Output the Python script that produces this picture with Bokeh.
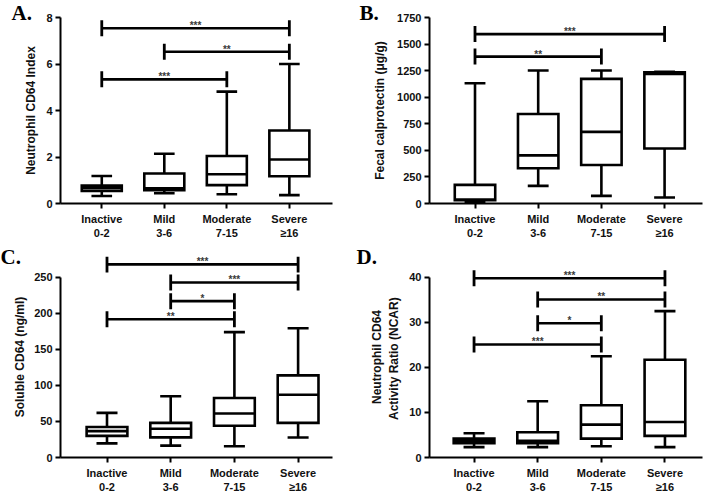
import numpy as np
from bokeh.plotting import figure
from bokeh.layouts import gridplot
from bokeh.models import ColumnDataSource, FixedTicker, Range1d
from bokeh.core.properties import value
from bokeh.embed import file_html
from bokeh.resources import INLINE

# ---------------- data ----------------
cats = [1, 2, 3, 4]
cat_labels = ["Inactive\n0-2", "Mild\n3-6", "Moderate\n7-15", "Severe\n≥16"]

# Panel A: Neutrophil CD64 Index
a_min = [0.32, 0.44, 0.40, 0.36]
a_q1 = [0.54, 0.57, 0.79, 1.17]
a_med = [0.66, 0.65, 1.26, 1.89]
a_q3 = [0.77, 1.29, 2.04, 3.14]
a_max = [1.18, 2.14, 4.81, 6.00]
a_br_from = [1, 2, 1]
a_br_to = [4, 4, 3]
a_br_y = [7.54, 6.53, 5.34]
a_br_txt = ["***", "**", "***"]
a_ticks = [0, 2, 4, 6, 8]

# Panel B: Fecal calprotectin
b_min = [15, 166, 72, 56]
b_q1 = [30, 331, 362, 518]
b_med = [38, 453, 674, 1220]
b_q3 = [175, 842, 1173, 1235]
b_max = [1132, 1251, 1251, 1240]
b_br_from = [1, 1]
b_br_to = [4, 3]
b_br_y = [1594, 1382]
b_br_txt = ["***", "**"]
b_ticks = [0, 250, 500, 750, 1000, 1250, 1500, 1750]

# Panel C: Soluble CD64
c_min = [19.6, 16.5, 15.6, 27.7]
c_q1 = [30, 28, 44, 48]
c_med = [36.6, 40, 61, 87]
c_q3 = [42.4, 48, 82.6, 114]
c_max = [62, 85, 174, 179.5]
c_br_from = [1, 2, 2, 1]
c_br_to = [4, 4, 3, 3]
c_br_y = [268, 243, 217, 192]
c_br_txt = ["***", "***", "*", "**"]
c_ticks = [0, 50, 100, 150, 200, 250]

# Panel D: NCAR
d_min = [2.3, 2.3, 2.5, 2.3]
d_q1 = [3.2, 3.2, 4.2, 4.8]
d_med = [3.7, 3.7, 7.3, 7.9]
d_q3 = [4.2, 5.6, 11.6, 21.7]
d_max = [5.4, 12.5, 22.5, 32.5]
d_br_from = [1, 2, 2, 1]
d_br_to = [4, 4, 3, 3]
d_br_y = [39.8, 35.1, 29.8, 25.1]
d_br_txt = ["***", "**", "*", "***"]
d_ticks = [0, 10, 20, 30, 40]

FONT = "Liberation Sans"
BOX_W = 0.64
CAP_W = 0.33


def make_panel(letter, ylabel, mins, q1, med, q3, maxs, br_from, br_to, br_y, br_txt,
               ticks, yr, xr, width, height, bl, br, bt, bb, lab_standoff, title_standoff):
    p = figure(width=width, height=height, output_backend="svg", toolbar_location=None,
               x_range=Range1d(*xr), y_range=Range1d(*yr),
               min_border_left=bl, min_border_right=br, min_border_top=bt, min_border_bottom=bb)
    p.outline_line_color = None
    p.grid.visible = False
    p.background_fill_color = "white"
    p.border_fill_color = "white"

    # panel letter as the figure title, pulled to the canvas' left edge
    p.title.text = letter
    p.title.text_font = "Liberation Serif"
    p.title.text_font_style = "bold"
    p.title.text_font_size = "21px"
    p.title.text_color = "black"
    p.title.align = "left"
    p.title.offset = -bl
    p.title.standoff = title_standoff

    x = np.array(cats, dtype=float)
    src = ColumnDataSource(dict(
        x=x, xl=x - BOX_W / 2, xr=x + BOX_W / 2, cl=x - CAP_W / 2, cr=x + CAP_W / 2,
        mn=mins, q1=q1, med=med, q3=q3, mx=maxs))
    lw = 2.6
    p.segment(x0="x", y0="mn", x1="x", y1="q1", source=src, line_color="black", line_width=lw)
    p.segment(x0="x", y0="q3", x1="x", y1="mx", source=src, line_color="black", line_width=lw)
    p.segment(x0="cl", y0="mn", x1="cr", y1="mn", source=src, line_color="black", line_width=lw)
    p.segment(x0="cl", y0="mx", x1="cr", y1="mx", source=src, line_color="black", line_width=lw)
    p.quad(left="xl", right="xr", bottom="q1", top="q3", source=src,
           fill_color="white", line_color="black", line_width=lw, line_join="miter")
    p.segment(x0="xl", y0="med", x1="xr", y1="med", source=src, line_color="black", line_width=lw)

    bsrc = ColumnDataSource(dict(x0=br_from, x1=br_to, y=br_y, txt=br_txt,
                                 xm=[(a + b) / 2 for a, b in zip(br_from, br_to)]))
    p.segment(x0="x0", y0="y", x1="x1", y1="y", source=bsrc, line_color="black", line_width=2.6)
    p.scatter(x="x0", y="y", source=bsrc, marker="dash", angle=np.pi / 2, size=16,
              line_color="black", line_width=2.8)
    p.scatter(x="x1", y="y", source=bsrc, marker="dash", angle=np.pi / 2, size=16,
              line_color="black", line_width=2.8)
    p.text(x="xm", y="y", text="txt", source=bsrc, text_font=value(FONT), text_font_size="10px",
           text_font_style="bold", text_color="#3a3a3a", text_align="center",
           text_baseline="bottom", y_offset=3)

    # axes
    for ax in (p.xaxis[0], p.yaxis[0]):
        ax.axis_line_width = 2
        ax.axis_line_color = "black"
        ax.major_tick_line_width = 2
        ax.major_tick_line_color = "black"
        ax.major_tick_in = 0
        ax.major_tick_out = 5
        ax.minor_tick_line_color = None
        ax.major_label_text_font = FONT
        ax.major_label_text_font_style = "bold"
        ax.major_label_text_font_size = "11px"
        ax.major_label_text_color = "#111111"
    p.yaxis.ticker = FixedTicker(ticks=ticks)
    p.yaxis.bounds = (ticks[0], ticks[-1])
    p.yaxis.major_label_standoff = 3
    p.yaxis.axis_label = ylabel
    p.yaxis.axis_label_text_font = FONT
    p.yaxis.axis_label_text_font_style = "bold"
    p.yaxis.axis_label_text_font_size = "12px"
    p.yaxis.axis_label_text_color = "#111111"
    p.yaxis.axis_label_standoff = lab_standoff

    p.xaxis.ticker = FixedTicker(ticks=cats)
    p.xaxis.major_label_overrides = {c: l for c, l in zip(cats, cat_labels)}
    p.xaxis.major_label_standoff = 4
    return p


pa = make_panel("A.", "Neutrophil CD64 Index", a_min, a_q1, a_med, a_q3, a_max,
                a_br_from, a_br_to, a_br_y, a_br_txt, a_ticks, (0, 8), (0.34, 4.69),
                356, 243, 49, 24, 17, 40, 5, -15)
pb = make_panel("B.", "Fecal calprotectin (μg/g)", b_min, b_q1, b_med, b_q3, b_max,
                b_br_from, b_br_to, b_br_y, b_br_txt, b_ticks, (0, 1750), (0.28, 4.6),
                350, 243, 70, 4, 17, 40, 7, -15)
pc = make_panel("C.", "Soluble CD64 (ng/ml)", c_min, c_q1, c_med, c_q3, c_max,
                c_br_from, c_br_to, c_br_y, c_br_txt, c_ticks, (0, 279), (0.27, 4.54),
                356, 252, 60, 22, 13, 35, 4, -24)
pd_ = make_panel("D.", "Neutrophil CD64\nActivity  Ratio (NCAR)", d_min, d_q1, d_med, d_q3, d_max,
                 d_br_from, d_br_to, d_br_y, d_br_txt, d_ticks, (0, 44.64), (0.30, 4.59),
                 350, 252, 73, 4, 13, 35, 5, -24)

grid = gridplot([[pa, pb], [pc, pd_]], toolbar_location=None, merge_tools=False)

open("out.html", "w").write(file_html(grid, INLINE))
